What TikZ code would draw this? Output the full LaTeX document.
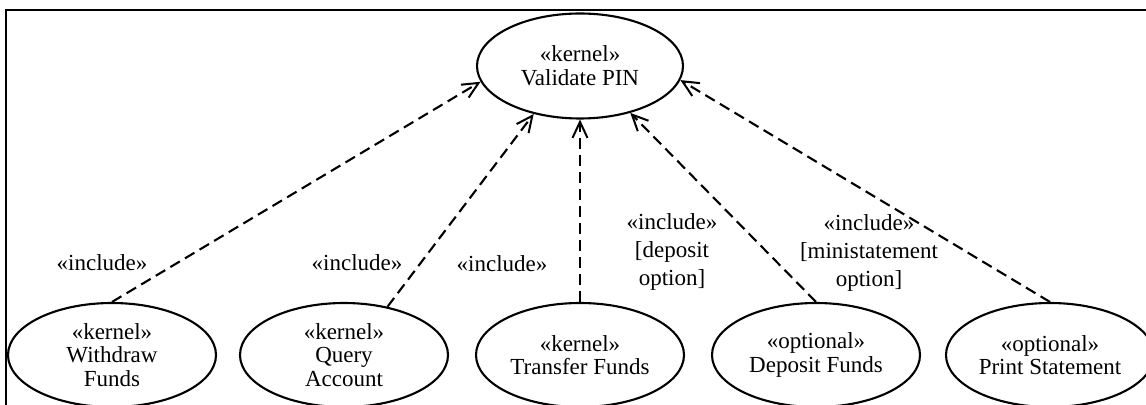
\documentclass[tikz,border=0pt]{standalone}
\usepackage{fontspec}
\setmainfont{Liberation Serif}
\usetikzlibrary{shapes.geometric,arrows.meta}
\begin{document}
\begin{tikzpicture}[x=0.5pt,y=-0.5pt,
  uc/.style={draw,ellipse,line width=1.05pt,inner sep=0pt,align=center,
    font=\fontsize{11.5}{11.8}\selectfont,minimum width=104pt,minimum height=52pt},
  lbl/.style={align=center,inner sep=0pt,font=\fontsize{11.5}{14}\selectfont},
  incl/.style={line width=1.05pt,dash pattern=on 5.5pt off 3pt,
    -{Straight Barb[length=8pt,width=7.5pt,line width=1pt]}},
  frame/.style={line width=1.3pt}]
\useasboundingbox (0,0) rectangle (1146,405);
\draw[frame] (6,420) -- (6,10) -- (1160,10);
\node[uc,minimum width=103pt,minimum height=52.5pt] (vp) at (580,66) {«kernel»\\Validate PIN};
\node[uc] (wf) at (112,355) {«kernel»\\Withdraw\\Funds};
\node[uc] (qa) at (344,355) {«kernel»\\Query\\Account};
\node[uc] (tf) at (580,355) {«kernel»\\Transfer Funds};
\node[uc] (df) at (816,355) {«optional»\\Deposit Funds};
\node[uc] (ps) at (1050,355) {«optional»\\Print Statement};
\draw[incl] (wf.north) -- (vp.189);
\draw[incl] (qa.48) -- (vp.226);
\draw[incl] (tf.north) -- (vp.south);
\draw[incl] (df.north) -- (vp.317);
\draw[incl] (ps.north) -- (vp.352);
\node[lbl] (l1) at (102,263) {«include»};
\node[lbl] (l2) at (357,263) {«include»};
\node[lbl] (l3) at (502,264) {«include»};
\node[lbl] (l4) at (672,252) {«include»\\{[}deposit\\option{]}};
\node[lbl] (l5) at (869,253) {«include»\\{[}ministatement\\option{]}};
\end{tikzpicture}
\end{document}
